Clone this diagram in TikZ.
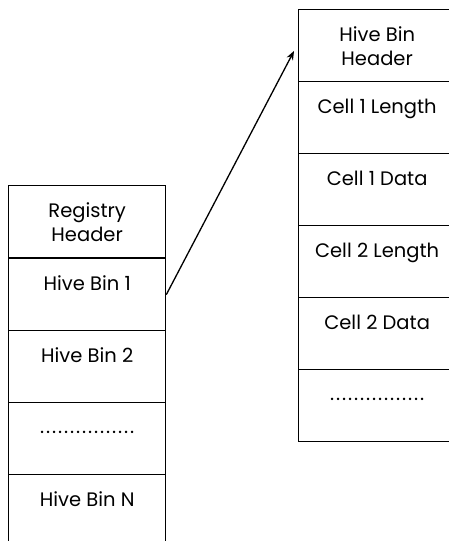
\documentclass[tikz,border=0pt]{standalone}
\usepackage{fontspec}
\setmainfont{Poppins}
\usetikzlibrary{arrows.meta}
\newcommand\dotrow{\foreach \i in {1,...,16}{\makebox[6pt]{.}}}
\begin{document}
\begin{tikzpicture}[x=1pt,y=-1pt,
  cellbox/.style={draw, line width=1.3pt, rectangle, minimum width=157pt, minimum height=72pt, inner sep=0pt, anchor=north west},
  celltext/.style={anchor=base, inner sep=0pt, align=center, font=\fontsize{19.5}{23.5}\selectfont},
  conn/.style={line width=1.3pt, -{Stealth[length=9pt,width=7pt]}}
]
\useasboundingbox (0,0) rectangle (449,541);
% left column
\node[cellbox] (rh) at (8,185) {};
\node[cellbox] (hb1) at (8,258) {};
\node[cellbox] (hb2) at (8,330) {};
\node[cellbox] (hbd) at (8,402) {};
\node[cellbox] (hbn) at (8,474) {};
\node[celltext] (trh) at ([yshift=-56pt]rh.north) {Registry\\Header};
\node[celltext] (thb1) at ([yshift=-32pt]hb1.north) {Hive Bin 1};
\node[celltext] (thb2) at ([yshift=-32pt]hb2.north) {Hive Bin 2};
\node[celltext] (thbd) at ([yshift=-31pt]hbd.north) {\dotrow};
\node[celltext] (thbn) at ([yshift=-32pt]hbn.north) {Hive Bin N};
% right column
\node[cellbox] (bh) at (298,9) {};
\node[cellbox] (c1l) at (298,81) {};
\node[cellbox] (c1d) at (298,153) {};
\node[cellbox] (c2l) at (298,225) {};
\node[cellbox] (c2d) at (298,297) {};
\node[cellbox] (cd) at (298,369) {};
\node[celltext] (tbh) at ([yshift=-56pt]bh.north) {Hive Bin\\Header};
\node[celltext] (tc1l) at ([yshift=-32pt]c1l.north) {Cell 1 Length};
\node[celltext] (tc1d) at ([yshift=-32pt]c1d.north) {Cell 1 Data};
\node[celltext] (tc2l) at ([yshift=-32pt]c2l.north) {Cell 2 Length};
\node[celltext] (tc2d) at ([yshift=-32pt]c2d.north) {Cell 2 Data};
\node[celltext] (tcd) at ([yshift=-31pt]cd.north) {\dotrow};
\coordinate (tip) at (294,51);
\draw[conn] (hb1.east) -- (tip);
\end{tikzpicture}
\end{document}
